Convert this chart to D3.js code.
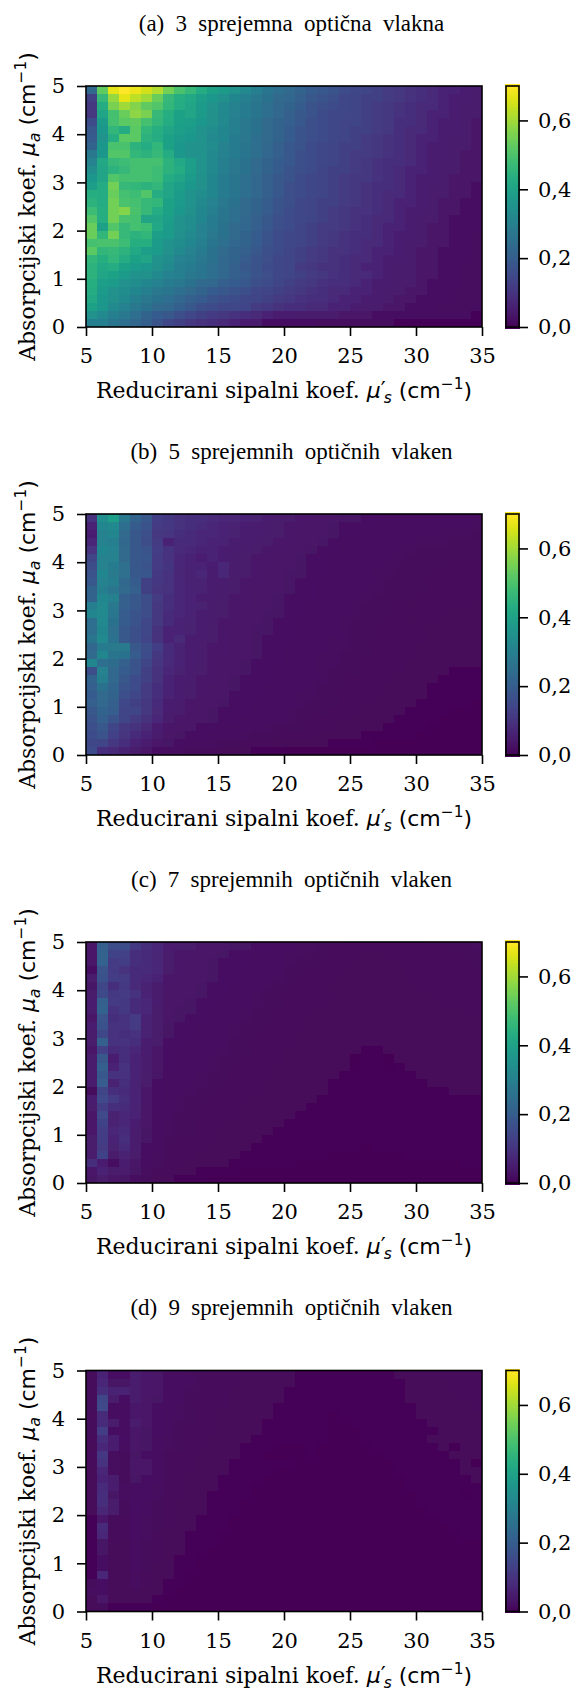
<!DOCTYPE html>
<html><head><meta charset="utf-8">
<script src="https://cdn.jsdelivr.net/npm/d3@7/dist/d3.min.js"></script>
<style>html,body{margin:0;padding:0;background:#fff}svg{display:block}</style></head>
<body><div id="chart"></div>
<script>
const titles=["(a) 3 sprejemna optična vlakna","(b) 5 sprejemnih optičnih vlaken","(c) 7 sprejemnih optičnih vlaken","(d) 9 sprejemnih optičnih vlaken"];
const xTicks=[5,10,15,20,25,30,35];
const yTicks=[0,1,2,3,4,5];
const cbTicks=[0,0.2,0.4,0.6];
const cbLabels=["0,0","0,2","0,4","0,6"];
const xDomain=[5,35], yDomain=[0,5], valueDomain=[0,0.7];
// rows run from top (mu_a = 5) to bottom (mu_a = 0); left to right mu_s' = 5..35
// fibres3 in hundredths, the rest in thousandths
const fibres3=[
[23,53,67,70,68,65,62,55,50,47,43,40,38,36,33,30,27,25,24,22,20,19,18,16,15,14,13,12,11,10,9,8,7,7,6,5],
[13,47,59,67,63,60,54,47,44,42,39,37,35,32,30,28,26,24,23,21,19,18,17,15,14,13,13,12,11,10,9,8,7,6,6,5],
[11,43,56,60,57,53,51,46,43,41,38,36,33,31,29,27,25,23,22,20,18,17,16,15,14,13,12,11,10,9,8,8,7,6,5,5],
[11,41,49,54,58,56,47,44,40,41,38,35,33,31,29,27,25,23,21,19,18,16,15,15,14,13,12,11,10,9,8,7,7,6,5,5],
[16,38,49,52,53,49,46,43,40,39,37,35,33,30,28,26,24,22,21,19,17,16,15,14,14,13,12,11,9,9,8,7,6,6,5,4],
[19,37,46,43,52,46,44,41,39,38,36,34,32,30,28,26,24,22,20,18,17,16,15,14,13,13,12,11,9,8,8,7,6,6,5,4],
[20,36,44,52,52,45,43,40,38,37,36,33,32,29,28,25,24,22,20,18,17,16,15,14,13,12,11,10,9,8,7,7,6,5,5,4],
[22,37,50,50,45,43,46,40,37,36,36,34,31,29,27,25,23,21,19,18,16,15,14,13,13,12,11,10,9,8,7,6,6,5,5,4],
[28,37,51,51,46,45,47,43,37,36,36,33,31,29,27,25,23,21,19,17,16,15,14,13,12,12,11,10,9,8,7,6,6,5,4,4],
[31,42,47,48,49,49,49,45,42,39,36,33,30,28,26,24,22,20,19,17,16,15,14,13,12,11,10,9,9,8,7,6,5,5,4,4],
[34,41,45,47,49,49,48,45,43,39,36,33,30,28,26,24,22,20,18,17,16,14,13,13,12,11,10,9,8,7,7,6,5,5,4,4],
[37,41,51,49,49,49,48,43,41,38,35,32,29,27,25,23,21,19,18,16,15,14,13,12,11,11,10,9,8,7,6,6,5,4,4,4],
[39,43,55,47,46,45,46,41,39,37,35,32,29,27,25,23,21,19,17,16,15,14,13,12,11,10,9,9,8,7,6,5,5,4,4,3],
[44,43,54,49,48,51,43,41,38,36,34,32,29,27,25,23,21,19,17,16,15,14,13,12,11,10,9,8,8,7,6,5,5,4,4,3],
[45,43,55,50,49,47,46,40,38,36,33,31,28,26,24,22,20,18,17,15,14,13,13,12,11,10,9,8,7,7,6,5,4,4,3,3],
[48,44,55,57,50,47,43,40,37,35,32,30,27,25,24,22,20,18,16,15,14,13,12,11,10,10,9,8,7,6,6,5,4,4,3,3],
[51,44,55,50,49,41,41,39,36,34,32,29,27,25,23,21,19,17,16,15,14,13,12,11,10,9,8,8,7,6,5,5,4,3,3,3],
[54,40,51,47,49,48,42,38,36,34,31,29,26,24,23,21,19,17,16,14,13,12,12,11,10,9,8,7,7,6,5,4,4,3,3,3],
[54,46,55,47,45,46,39,38,35,33,31,28,26,24,22,20,18,16,15,14,13,12,11,10,9,9,8,7,6,6,5,4,4,3,3,2],
[49,50,50,48,44,44,38,36,34,32,30,27,25,23,22,20,18,16,15,14,13,12,11,10,9,8,8,7,6,5,5,4,4,3,3,2],
[52,46,47,45,42,39,38,35,33,31,29,26,24,22,21,19,17,16,14,13,12,11,10,10,9,8,7,7,6,5,4,4,3,3,3,2],
[46,44,46,43,40,41,36,34,31,30,28,26,23,22,20,18,17,15,14,13,12,11,10,9,8,8,7,6,6,5,4,4,3,3,3,2],
[45,42,43,40,38,37,35,33,30,29,27,25,23,21,19,18,16,15,14,12,11,10,10,9,8,7,7,6,5,5,4,4,3,3,2,2],
[45,41,40,38,36,35,33,31,30,28,27,25,23,21,20,18,17,15,14,13,12,11,10,9,8,8,7,6,5,5,4,4,3,3,2,2],
[44,39,38,36,34,32,31,29,28,26,24,23,21,20,19,17,16,14,13,12,11,10,9,9,8,7,6,6,5,5,4,3,3,3,2,2],
[43,38,36,34,32,30,28,27,25,24,22,20,19,18,17,15,14,13,12,11,10,9,8,8,7,7,6,5,5,4,4,3,3,2,2,2],
[42,37,35,33,30,28,26,25,23,21,20,18,17,16,15,14,13,12,11,10,9,9,8,7,7,6,6,5,4,4,3,3,3,2,2,2],
[40,37,33,31,28,26,24,23,21,19,17,16,15,15,14,12,11,10,9,9,8,8,7,7,6,5,5,4,4,3,3,3,2,2,2,2],
[36,33,30,28,25,22,20,19,17,15,13,12,11,10,9,8,7,6,6,5,5,5,5,4,4,4,3,3,3,3,2,2,2,2,2,1],
[30,30,27,25,23,21,18,15,13,11,10,9,8,7,6,5,3,3,3,3,3,2,2,2,2,2,2,2,1,1,1,1,1,1,1,1]];
const fibres5=[
[100,340,390,280,220,190,125,115,100,95,88,82,78,72,68,62,58,52,48,44,42,40,38,35,33,30,28,27,26,25,24,23,22,22,22,21],
[70,320,330,250,200,180,118,110,98,90,83,78,70,65,60,55,52,48,45,42,40,38,35,32,30,28,26,25,24,23,22,22,21,21,21,20],
[60,310,320,240,190,170,112,105,92,86,78,73,68,62,58,55,50,47,44,40,38,36,33,30,28,27,25,24,23,22,21,21,20,20,20,19],
[75,310,300,230,190,165,118,68,84,82,74,70,65,60,55,50,48,45,42,38,36,33,30,27,26,25,24,22,21,20,20,20,20,19,19,18],
[105,320,310,240,190,175,125,100,80,78,68,66,60,55,50,47,45,42,40,36,34,31,29,27,25,24,23,22,21,20,19,18,18,18,18,18],
[140,310,310,240,190,185,122,103,75,70,58,66,55,50,48,45,42,40,37,35,32,30,27,25,24,23,22,21,20,19,18,18,17,17,17,17],
[165,310,290,255,190,178,120,108,72,65,70,60,75,52,48,45,42,38,36,34,31,29,27,25,23,22,21,20,19,18,18,17,17,16,16,16],
[180,320,285,255,190,185,115,103,72,65,72,58,72,50,47,43,40,37,35,33,30,28,26,24,23,22,21,20,19,18,17,17,16,16,16,15],
[190,310,295,230,200,130,110,100,78,65,63,55,52,48,45,42,40,37,34,32,30,27,25,23,22,21,20,19,18,18,17,16,16,15,15,15],
[220,300,275,240,210,130,105,98,76,65,63,55,50,47,44,40,38,36,33,31,29,26,24,23,22,21,20,19,18,17,17,16,15,15,15,14],
[220,320,305,210,190,165,118,90,75,70,60,55,50,46,43,40,37,34,32,30,28,26,24,22,21,20,19,18,17,17,16,15,15,14,14,14],
[300,330,280,210,190,165,110,90,75,68,61,53,48,45,42,38,36,34,31,29,27,25,24,22,20,19,18,17,16,13,15,15,14,14,14,13],
[320,330,275,200,180,165,110,85,75,65,60,52,47,43,40,37,35,33,30,28,26,25,23,21,20,19,18,17,16,15,15,14,14,13,13,13],
[250,330,260,200,180,150,110,85,70,62,58,50,45,42,40,37,34,32,29,27,26,24,22,21,19,18,17,16,15,13,14,14,13,13,13,12],
[250,320,255,190,170,150,100,68,68,62,56,48,44,41,38,35,33,31,28,27,25,23,22,20,19,18,17,16,15,15,14,13,13,13,13,12],
[270,330,265,190,170,140,100,70,82,60,55,47,44,40,37,35,32,30,28,26,24,22,21,20,19,18,17,16,15,14,14,13,12,12,12,12],
[230,290,285,285,190,165,125,85,65,60,52,46,43,40,37,34,31,29,27,25,24,22,21,20,18,17,16,15,15,14,13,13,12,12,12,11],
[240,320,270,260,200,160,110,85,65,58,50,45,42,38,36,33,31,29,27,25,23,21,20,19,18,17,16,15,14,14,13,12,12,12,11,11],
[320,250,245,210,180,140,105,80,70,55,50,44,40,38,35,32,30,28,26,24,23,21,20,19,17,16,15,15,14,13,13,12,11,11,11,11],
[170,310,235,200,180,130,100,75,62,55,48,42,40,37,34,31,29,27,25,24,22,20,19,18,17,16,15,14,14,13,12,11,11,10,10,10],
[220,300,235,190,160,130,100,70,60,52,46,42,38,35,32,30,28,26,25,23,21,20,19,18,16,15,15,14,13,12,12,11,10,10,10,10],
[210,260,225,180,160,120,95,68,58,50,45,40,37,34,31,29,27,25,24,22,21,19,18,17,16,15,14,13,13,12,11,10,10,10,9,9],
[200,240,220,170,150,120,90,65,55,48,43,38,36,32,30,28,26,24,23,21,20,19,18,16,15,14,14,13,12,11,11,10,10,9,9,9],
[210,230,210,150,130,110,85,55,52,45,40,37,34,31,29,27,25,23,22,20,19,18,17,16,15,14,13,12,12,11,10,10,9,9,9,8],
[190,220,205,140,140,110,80,55,50,45,38,35,32,30,28,25,24,22,21,19,18,17,16,15,14,13,12,12,11,10,10,9,9,8,8,8],
[180,210,180,140,120,100,75,50,45,40,36,33,30,28,26,24,22,21,20,18,17,16,15,14,13,13,12,11,10,10,9,9,8,8,8,8],
[170,190,140,110,100,80,58,45,40,36,32,30,27,25,23,22,20,19,18,17,16,15,14,13,12,12,11,10,10,9,9,8,8,8,8,7],
[160,180,135,105,85,68,50,40,35,32,28,26,24,22,20,19,18,17,16,15,14,13,13,12,11,10,10,9,9,9,8,8,7,7,7,7],
[150,140,110,90,70,55,45,35,30,26,23,21,18,17,16,15,14,13,13,12,11,11,10,10,9,9,8,8,7,7,7,7,7,6,6,6],
[160,95,80,65,48,38,32,26,22,19,17,15,13,12,11,10,9,9,8,8,8,7,7,7,6,6,6,6,6,6,6,6,6,6,6,6]];
const fibres7=[
[40,205,160,160,110,90,75,55,48,45,42,38,35,32,30,27,25,23,20,18,17,16,14,13,12,11,11,12,12,13,13,14,14,15,16,17],
[40,215,135,130,90,80,70,48,43,40,37,34,30,28,26,24,22,20,18,17,16,14,13,12,11,10,10,11,11,12,12,13,13,14,15,15],
[35,215,120,125,85,80,70,46,41,38,34,32,29,27,25,23,21,19,17,16,15,14,13,11,10,9,9,10,11,11,12,12,13,13,14,14],
[25,175,120,95,80,80,75,44,39,37,34,30,28,26,24,22,20,18,16,15,14,13,12,11,9,8,9,10,10,11,11,12,12,13,13,14],
[50,170,125,115,80,72,68,42,38,35,33,30,27,25,23,21,19,17,15,14,13,12,11,10,9,9,9,10,10,11,11,12,12,12,13,13],
[30,145,85,110,78,62,50,40,36,34,32,28,26,24,22,20,18,16,14,13,12,11,10,10,9,9,9,10,10,10,11,11,11,12,12,12],
[45,155,110,115,95,62,48,38,34,33,30,27,25,22,20,18,16,15,14,13,12,11,11,10,10,9,9,9,10,10,10,11,11,11,12,12],
[55,210,120,110,82,75,52,36,33,31,28,26,24,21,19,17,16,15,13,12,11,11,10,10,9,9,9,9,9,10,10,10,11,11,11,11],
[50,215,100,110,80,72,45,34,32,30,26,24,22,20,18,16,15,14,13,12,11,10,10,9,9,9,9,9,9,9,10,10,10,10,11,11],
[35,180,85,100,120,60,45,33,30,28,25,23,21,19,17,16,14,13,12,11,10,10,9,9,9,8,8,9,9,9,9,10,10,10,10,10],
[55,170,95,100,115,60,45,32,28,26,24,22,20,18,16,15,14,13,12,11,10,10,9,9,8,8,8,8,9,9,9,9,10,10,10,10],
[45,145,95,85,95,60,45,30,27,25,23,21,19,17,15,14,13,12,11,10,10,9,9,8,8,8,8,8,8,9,9,9,9,9,9,9],
[45,210,100,95,85,55,45,29,25,24,22,20,18,16,15,14,13,12,11,10,9,9,8,8,8,8,8,8,8,8,8,8,9,9,9,9],
[35,130,80,90,75,55,35,27,24,22,21,19,17,15,14,13,12,11,10,10,9,9,8,8,8,7,7,8,8,8,8,8,8,8,9,9],
[50,190,55,85,68,50,35,26,23,21,20,18,16,15,14,13,12,11,10,9,9,8,8,8,5,7,7,5,8,8,8,8,8,8,8,8],
[50,210,65,100,65,50,35,25,22,20,19,17,16,14,13,12,11,10,10,9,8,8,8,8,5,7,7,5,7,8,8,8,8,8,8,8],
[50,190,100,95,65,45,30,24,21,19,18,16,15,13,12,11,11,10,9,9,8,8,8,7,7,7,7,7,6,7,8,8,8,8,8,8],
[50,195,58,85,60,45,28,23,20,18,17,15,14,13,12,11,10,10,9,8,8,8,7,7,6,7,7,7,7,7,7,8,8,8,8,8],
[15,140,85,80,60,40,27,22,19,17,16,14,13,12,11,11,10,9,9,8,8,8,7,7,7,7,7,7,7,7,7,7,7,8,8,8],
[55,150,115,85,68,40,26,21,18,16,15,14,13,12,11,10,10,9,8,8,8,7,7,7,7,7,6,7,7,7,7,7,7,7,7,7],
[45,125,85,80,60,35,25,20,17,15,14,13,12,11,10,10,9,8,8,8,7,7,7,7,7,6,6,7,7,7,7,7,7,7,7,7],
[35,150,58,75,68,35,24,19,16,15,14,12,11,11,10,9,8,8,8,7,7,7,7,7,6,6,6,7,7,7,7,7,7,7,7,7],
[40,135,58,72,55,33,23,18,15,14,13,12,11,10,9,9,8,8,7,7,7,7,6,6,6,6,6,6,7,7,7,7,7,7,7,7],
[40,125,75,80,50,32,22,17,15,14,12,11,10,9,9,8,8,7,7,7,7,6,6,6,6,6,6,6,6,6,7,7,7,7,7,7],
[45,125,68,85,50,30,21,16,14,13,12,11,10,9,8,8,7,7,7,6,6,6,6,6,6,6,6,6,6,6,6,6,7,7,7,7],
[45,115,58,80,50,28,20,15,13,12,11,10,9,8,8,7,7,7,6,6,6,6,6,6,6,5,6,6,6,6,6,6,6,6,6,6],
[50,135,45,60,45,26,18,14,12,11,10,9,8,8,7,7,6,6,6,6,6,6,5,5,5,5,5,5,5,6,6,6,6,6,6,6],
[85,55,22,55,38,24,17,13,11,10,9,8,8,7,7,6,6,6,6,5,5,5,5,5,5,5,5,5,5,5,5,5,5,5,6,6],
[40,65,45,50,30,18,14,11,9,8,7,7,6,6,5,5,5,5,5,5,4,4,4,4,4,4,4,4,4,4,5,5,5,5,5,5],
[30,45,35,30,20,14,10,8,7,6,6,5,5,5,5,4,4,4,4,4,4,4,4,4,3,3,3,3,3,4,4,4,4,4,4,4]];
const fibres9=[
[15,65,25,25,50,42,33,24,20,17,15,13,12,11,10,9,9,8,8,7,7,7,7,7,7,7,7,7,8,8,9,10,11,12,12,13],
[15,75,30,30,50,42,33,24,20,17,15,13,12,11,10,9,9,8,8,7,7,7,7,7,7,7,7,7,7,8,9,9,10,11,12,13],
[15,85,62,62,50,42,33,23,19,16,14,12,11,10,9,9,8,8,7,7,7,7,7,6,6,6,7,7,7,8,8,9,10,11,11,12],
[15,145,45,25,47,38,30,23,19,16,14,12,11,10,9,9,8,8,7,7,7,7,6,6,6,6,7,7,7,8,8,9,9,10,11,11],
[15,150,20,20,43,38,28,22,18,15,13,12,11,10,9,8,8,7,7,7,7,6,6,6,6,6,6,7,7,7,8,8,9,10,10,11],
[12,80,20,20,43,36,27,20,17,14,13,12,10,9,9,8,8,7,7,7,6,6,5,6,6,6,6,7,7,7,8,8,8,9,10,10],
[15,80,50,20,47,33,27,20,16,14,12,11,10,9,8,8,7,7,7,6,6,6,5,5,6,6,6,6,7,7,7,8,8,9,9,10],
[15,125,25,20,40,32,25,19,15,13,12,11,10,9,8,8,7,7,6,6,6,6,5,5,5,6,6,6,7,7,7,7,8,8,9,9],
[12,85,55,25,35,30,24,18,15,13,11,10,9,8,8,7,7,6,6,6,6,6,5,5,5,6,6,6,6,7,7,8,8,8,9,9],
[10,75,55,20,33,30,22,17,14,12,11,10,9,8,7,7,6,5,5,5,6,5,5,5,5,5,6,6,6,6,7,7,8,5,8,9],
[12,110,18,15,32,28,22,16,13,12,10,9,8,8,7,6,5,5,5,5,6,5,5,5,5,5,5,6,6,6,7,7,7,8,8,8],
[12,100,18,15,35,33,22,15,13,11,10,9,8,7,7,6,6,6,6,5,5,5,5,5,5,5,5,5,6,6,6,7,7,7,8,5],
[10,72,18,15,38,33,20,15,12,11,10,8,8,7,6,6,6,5,5,5,5,5,5,5,5,5,5,5,6,6,6,7,7,7,8,8],
[10,68,48,15,30,28,20,14,12,10,9,8,7,7,6,6,5,5,5,5,5,5,5,5,5,5,5,5,5,6,6,6,7,7,7,8],
[10,80,55,18,25,25,18,13,11,10,9,8,7,6,6,5,5,5,5,5,5,5,5,5,4,5,5,5,5,6,6,6,6,7,7,7],
[8,85,30,18,25,25,17,13,11,9,8,7,7,6,6,5,5,5,5,5,5,5,4,4,4,4,5,5,5,5,6,6,6,7,5,7],
[8,85,45,15,25,22,16,12,10,9,8,7,6,6,5,5,5,5,5,4,4,4,2,4,3,4,3,5,5,5,6,6,6,6,7,7],
[8,70,45,15,25,20,15,12,10,9,8,7,6,6,5,5,5,5,5,4,4,4,4,4,4,4,4,3,5,5,5,6,6,6,6,6],
[6,40,15,12,25,18,14,11,9,8,7,6,6,5,5,5,5,4,4,4,4,4,4,4,4,4,4,4,5,5,5,5,6,6,6,6],
[6,80,12,12,28,18,14,11,9,8,7,6,6,5,5,5,4,4,3,3,3,3,4,4,4,4,4,4,4,5,5,5,5,6,6,6],
[6,75,12,12,28,18,13,10,8,7,6,6,5,5,5,4,4,4,3,3,3,3,3,3,3,4,4,4,4,4,5,5,5,5,6,6],
[6,30,12,10,22,16,12,10,8,7,6,6,5,5,4,4,4,4,4,4,4,4,4,4,4,4,4,4,4,4,5,5,5,5,5,5],
[6,30,10,10,22,16,11,9,8,6,6,5,5,4,4,4,4,4,4,4,4,3,3,3,3,4,4,4,4,4,4,5,5,5,5,5],
[6,28,10,10,20,15,11,9,7,6,5,5,5,4,4,4,4,4,4,4,3,3,3,3,3,3,3,4,4,4,4,4,5,5,5,5],
[6,25,10,10,28,14,10,8,7,6,5,5,4,4,4,4,4,3,3,3,3,3,3,3,3,3,3,3,4,4,4,4,4,5,5,5],
[6,72,8,10,18,12,10,8,6,5,5,4,4,4,4,3,3,3,3,3,3,3,3,3,3,3,3,3,3,4,4,4,4,4,4,5],
[15,25,8,8,20,12,9,7,6,5,5,4,4,4,3,3,3,3,3,3,3,3,3,3,3,3,3,3,3,3,4,4,4,4,4,4],
[18,28,8,8,14,10,8,6,5,5,4,4,3,3,3,3,3,3,3,3,3,3,3,3,3,3,3,3,3,3,3,3,4,4,4,4],
[10,42,8,8,10,8,7,5,5,4,4,3,3,3,3,3,3,3,3,3,3,3,3,3,3,3,3,3,3,3,3,3,3,3,3,4],
[8,15,6,6,6,6,5,4,4,3,3,3,3,3,3,3,3,3,3,3,3,3,3,3,3,3,3,3,3,3,3,3,3,3,3,3]];
// the 7- and 9-fibre maps sit a little above their floor over the whole field
const floorPerMille=3;
const panelData=[fibres3.map(r=>r.map(v=>v/100)),fibres5.map(r=>r.map(v=>v/1000)),fibres7.map(r=>r.map(v=>(v+floorPerMille)/1000)),fibres9.map(r=>r.map(v=>(v+floorPerMille)/1000))];

const W=576,H=1690;
const tops=[86,514,942,1370.5], plotH=241, left=86, right=482, cbL=506, cbR=519;
const SERIF="'DejaVu Serif',serif", SANS="'DejaVu Sans',sans-serif", TITLE="'Liberation Serif','Times New Roman',serif";
const FS=22, TICKFS=21, LW=1.6;
const svg=d3.select("#chart").append("svg").attr("width",W).attr("height",H).attr("viewBox",`0 0 ${W} ${H}`);
const color=d3.scaleSequential(d3.interpolateViridis).domain(valueDomain);
const defs=svg.append("defs");
const soft=defs.append("filter").attr("id","soft").attr("x","0").attr("y","0").attr("width","1").attr("height","1");
soft.append("feGaussianBlur").attr("stdDeviation",0.7).attr("edgeMode","duplicate");

function muLabel(t,start,sub,prime){
  t.append("tspan").attr("font-family",SERIF).text(start);
  t.append("tspan").attr("font-family",SANS).attr("font-style","oblique").text("μ");
  if(prime){
    t.append("tspan").attr("font-family",SANS).attr("dy",-1).text("′");
    t.append("tspan").attr("font-family",SANS).attr("font-style","oblique").attr("font-size",FS*0.7).attr("dy",6).attr("dx",-2).text(sub);
    t.append("tspan").attr("font-family",SANS).attr("dy",-5).text(" (cm");
  } else {
    t.append("tspan").attr("font-family",SANS).attr("font-style","oblique").attr("font-size",FS*0.7).attr("dy",5).text(sub);
    t.append("tspan").attr("font-family",SANS).attr("dy",-5).text(" (cm");
  }
  t.append("tspan").attr("font-family",SANS).attr("font-size",FS*0.7).attr("dy",-9).text("−1");
  t.append("tspan").attr("font-family",SANS).attr("dy",9).text(")");
}

panelData.forEach((grid,p)=>{
  const top=tops[p], bottom=top+plotH;
  const g=svg.append("g");
  const x=d3.scaleLinear().domain(xDomain).range([left,right]);
  const y=d3.scaleLinear().domain(yDomain).range([bottom,top]);
  const col=d3.scaleBand().domain(d3.range(grid[0].length)).range([left,right]);
  const row=d3.scaleBand().domain(d3.range(grid.length)).range([top,bottom]);
  const cells=grid.flatMap((r,i)=>r.map((v,j)=>({i,j,v})));
  g.append("g").attr("filter","url(#soft)").attr("shape-rendering","crispEdges").selectAll("rect").data(cells).join("rect")
    .attr("x",d=>col(d.j)).attr("y",d=>row(d.i))
    .attr("width",d=>d.j===grid[0].length-1?col.bandwidth():col.bandwidth()+0.6)
    .attr("height",d=>d.i===grid.length-1?row.bandwidth():row.bandwidth()+0.6)
    .attr("fill",d=>color(d.v));
  g.append("text").attr("x",291.5).attr("y",top-55.5).attr("text-anchor","middle")
    .attr("font-family",TITLE).attr("font-size",23).attr("word-spacing",5.5).attr("fill","#000").text(titles[p]);
  // axes
  const ax=g.append("g").attr("transform",`translate(0,${bottom})`).call(d3.axisBottom(x).tickValues(xTicks).tickFormat(d3.format("d")).tickSize(9).tickPadding(12.5));
  const ay=g.append("g").attr("transform",`translate(${left},0)`).call(d3.axisLeft(y).tickValues(yTicks).tickFormat(d3.format("d")).tickSize(9).tickPadding(12));
  [ax,ay].forEach(a=>{
    a.select(".domain").remove();
    a.selectAll("line").attr("stroke","#000").attr("stroke-width",LW);
    a.selectAll("text").attr("font-family",SERIF).attr("font-size",TICKFS).attr("fill","#000");
  });
  g.append("rect").attr("x",left).attr("y",top).attr("width",right-left).attr("height",plotH)
    .attr("fill","none").attr("stroke","#000").attr("stroke-width",LW);
  // axis labels
  const xl=g.append("text").attr("x",(left+right)/2).attr("y",bottom+71).attr("text-anchor","middle")
    .attr("font-size",FS).attr("fill","#000");
  muLabel(xl,"Reducirani sipalni koef. ","s",true);
  const yl=g.append("text").attr("transform",`translate(35,${(top+bottom)/2}) rotate(-90)`).attr("text-anchor","middle")
    .attr("font-size",FS).attr("fill","#000");
  muLabel(yl,"Absorpcijski koef. ","a",false);
  // colorbar
  const cb=d3.scaleLinear().domain(valueDomain).range([bottom,top]);
  const steps=d3.range(256).map(i=>valueDomain[0]+(valueDomain[1]-valueDomain[0])*i/255);
  g.append("g").attr("shape-rendering","crispEdges").selectAll("rect").data(steps).join("rect")
    .attr("x",cbL-0.8).attr("width",cbR-cbL+1.6)
    .attr("y",d=>cb(d)-1.7).attr("height",plotH/255+2.4).attr("fill",d=>color(d));
  g.append("rect").attr("x",cbL).attr("y",top).attr("width",cbR-cbL).attr("height",plotH)
    .attr("fill","none").attr("stroke","#000").attr("stroke-width",LW);
  const ac=g.append("g").attr("transform",`translate(${cbR},0)`).call(d3.axisRight(cb).tickValues(cbTicks).tickFormat((d,i)=>cbLabels[i]).tickSize(9).tickPadding(10));
  ac.select(".domain").remove();
  ac.selectAll("line").attr("stroke","#000").attr("stroke-width",LW);
  ac.selectAll("text").attr("font-family",SERIF).attr("font-size",TICKFS).attr("fill","#000");
});
</script></body></html>
